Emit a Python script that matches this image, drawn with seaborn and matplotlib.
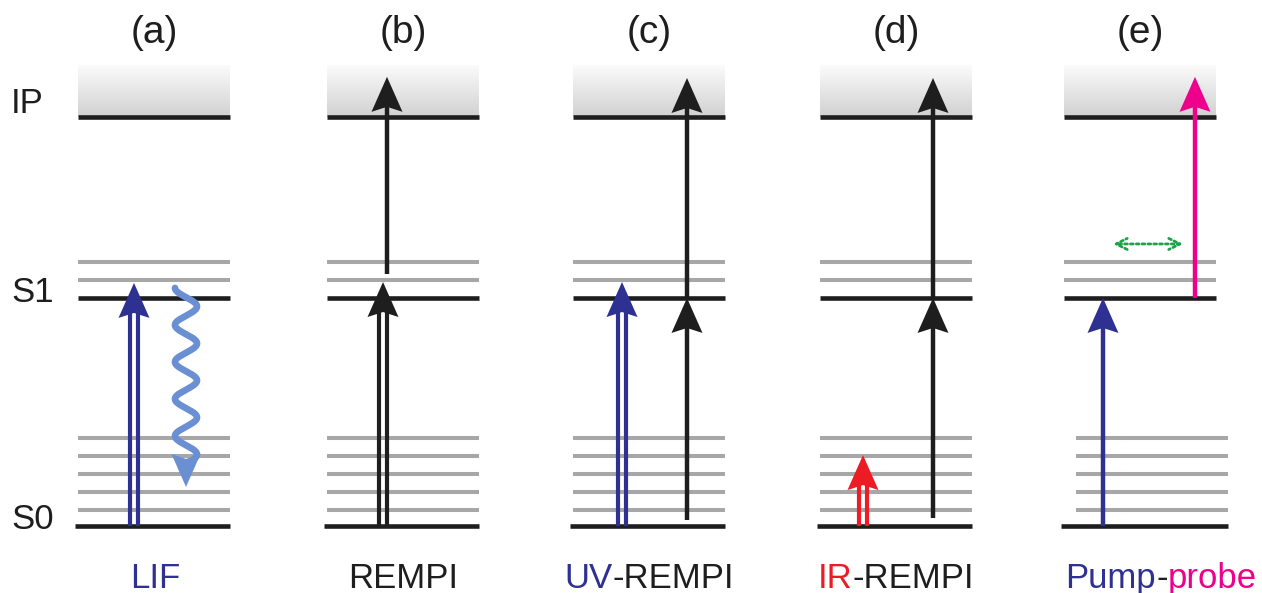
import matplotlib
matplotlib.use("Agg")
import matplotlib.pyplot as plt
from matplotlib.colors import LinearSegmentedColormap
import numpy as np
import seaborn as sns

# colours used in the scheme
BLACK = "#1e1e1e"
GRAY = "#a7a7a7"
BLUE = "#2e3192"
LIGHTBLUE = "#6a8fd2"
RED = "#ed1c24"
MAGENTA = "#ec008c"
GREEN = "#1fa34a"

# panels
panel_tags = ["(a)", "(b)", "(c)", "(d)", "(e)"]
panel_x = [154, 403, 649, 896, 1140]
label_x = [155, 403, 649, 896, 1161]
method_labels = [
    [("LIF", BLUE)],
    [("REMPI", BLACK)],
    [("UV", BLUE), ("-REMPI", BLACK)],
    [("IR", RED), ("-REMPI", BLACK)],
    [("Pump", BLUE), ("-", BLACK), ("probe", MAGENTA)],
]

# energy levels (S0 = 0, S1 = 1)
level_names = ["S0", "S1", "IP"]
level_energy = [0.0, 1.0, 1.795]
name_lift = [0.028, 0.026, 0.058]
s0_vib = [0.07, 0.149, 0.228, 0.307, 0.386]
s1_vib = [1.079, 1.158]
continuum_top = 2.02
s0_shift = [0, 0, 0, 0, 12]

# single shaft arrows
single_panel = [1, 2, 2, 3, 3, 4, 4]
single_dx = [-16, 38, 38, 37, 37, -37, 55]
single_from = [1.105, 0.026, 1.0, 0.035, 1.0, 0.0, 1.0]
single_to = [1.97, 1.0, 1.965, 1.0, 1.965, 1.0, 1.97]
single_color = [BLACK, BLACK, BLACK, BLACK, BLACK, BLUE, MAGENTA]

# double shaft (two-photon) arrows, all start at S0
double_panel = [0, 1, 2, 3]
double_dx = [-20, -20, -27, -33]
double_to = [1.066, 1.07, 1.07, 0.311]
double_color = [BLUE, BLACK, BLUE, RED]

# fluorescence (panel a) and wavepacket motion (panel e)
fluo_dx, fluo_from, fluo_to = 32, 1.044, 0.171
motion_y, motion_dx = 1.237, (-27, 43)

sns.set_theme(style="white")
plt.rcParams["font.family"] = ["Liberation Sans", "DejaVu Sans"]

W, H = 1262, 593
YLIM = (-0.294, 2.307)
KY = H / (YLIM[1] - YLIM[0])   # pixels per energy unit
HALF = 76

fig = plt.figure(figsize=(W / 100, H / 100), dpi=100)
ax = fig.add_axes([0, 0, 1, 1])
ax.set_xlim(0, W)
ax.set_ylim(*YLIM)
ax.axis("off")

grad = LinearSegmentedColormap.from_list("cont", ["#d1d1d1", "#fbfbfb"])
ramp = np.linspace(0, 1, 100).reshape(-1, 1)


def head(x, tip, color, up=True, w=31, l=35, notch=5):
    s = 1 if up else -1
    hl, nt = l / KY, notch / KY
    xs = [x, x - w / 2, x, x + w / 2]
    ys = [tip, tip - s * hl, tip - s * (hl - nt), tip - s * hl]
    ax.fill(xs, ys, color=color, lw=0, zorder=6)
    return tip - s * (hl - nt - 0.5 / KY)


for i, cx in enumerate(panel_x):
    ip = level_energy[2]
    ax.imshow(ramp, cmap=grad, extent=[cx - HALF, cx + HALF, ip, continuum_top],
              aspect="auto", origin="lower", zorder=1)
    sx = cx + s0_shift[i]
    ax.hlines(s0_vib, sx - HALF, sx + HALF, color=GRAY, lw=2.9, zorder=2)
    ax.hlines(s1_vib, cx - HALF, cx + HALF, color=GRAY, lw=2.9, zorder=2)
    ax.hlines(level_energy[0], min(sx, cx) - HALF - 3, sx + HALF, color=BLACK, lw=3.3, zorder=3)
    ax.hlines(level_energy[1:], cx - HALF, cx + HALF, color=BLACK, lw=3.3, zorder=3)
    ax.text(cx, 2.163, panel_tags[i], ha="center", va="center", fontsize=28, color=BLACK)

for name, e, lift in zip(level_names, level_energy, name_lift):
    ax.text(11, e + lift, name, ha="left", va="center", fontsize=25, color=BLACK)

for p, dx, e0, e1, c in zip(single_panel, single_dx, single_from, single_to, single_color):
    x = panel_x[p] + dx
    base = head(x, e1, c)
    ax.plot([x, x], [e0, base], color=c, lw=3.2, solid_capstyle="butt", zorder=5)

for p, dx, e1, c in zip(double_panel, double_dx, double_to, double_color):
    x = panel_x[p] + dx
    base = head(x, e1, c)
    for off in (-3.7, 3.7):
        ax.plot([x + off, x + off], [0, base], color=c, lw=3.0, solid_capstyle="butt", zorder=5)

# wavy fluorescence arrow
xw = panel_x[0] + fluo_dx
base = head(xw, fluo_to, LIGHTBLUE, up=False, w=29, l=33)
yy = np.linspace(fluo_from, base, 400)
xx = xw - 11 * np.cos(2 * np.pi * (fluo_from - yy) * KY / 37)
ax.plot(xx, yy, color=LIGHTBLUE, lw=4.8, solid_capstyle="round", zorder=5)

# dotted double arrow (panel e)
ax.annotate("", xy=(panel_x[4] + motion_dx[0], motion_y),
            xytext=(panel_x[4] + motion_dx[1], motion_y),
            arrowprops=dict(arrowstyle="<->", color=GREEN, lw=2.0, linestyle=(0, (1, 1.1)),
                            shrinkA=0, shrinkB=0, mutation_scale=20))

# method labels, coloured part by part and centred below each panel
fig.canvas.draw()
rend = fig.canvas.get_renderer()
for cx, parts in zip(label_x, method_labels):
    pieces = [ax.text(0, -0.272, s, color=c, fontsize=25, ha="left", va="baseline") for s, c in parts]
    widths = [t.get_window_extent(rend).width for t in pieces]
    x = cx - sum(widths) / 2
    for t, w in zip(pieces, widths):
        t.set_x(x)
        x += w

fig.savefig("out.png", dpi=100, facecolor="white")
